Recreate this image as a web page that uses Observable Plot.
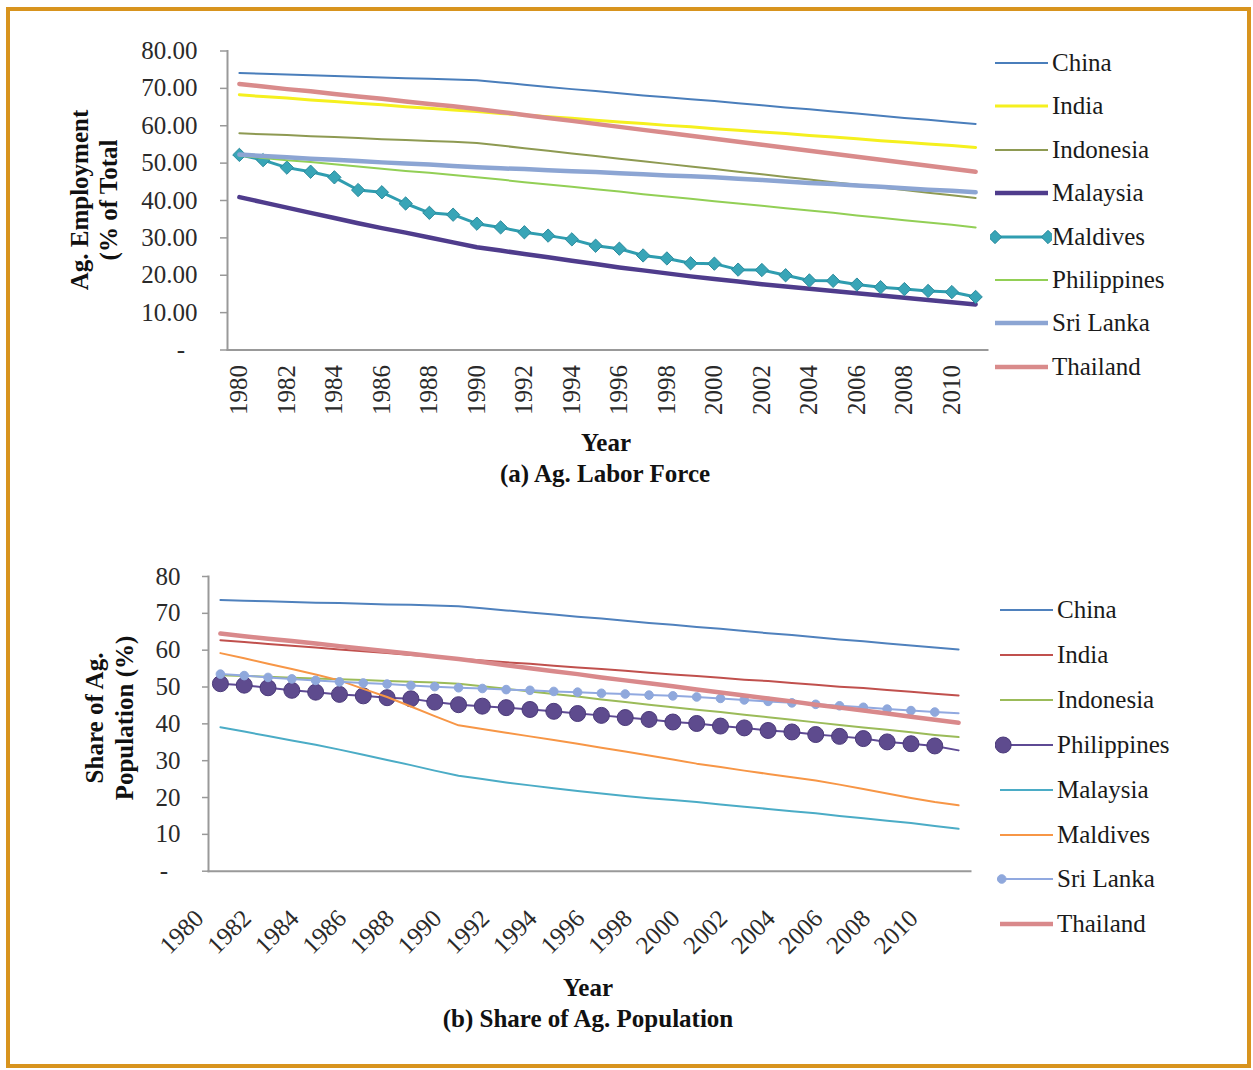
<!DOCTYPE html>
<html>
<head>
<meta charset="utf-8">
<script src="https://cdn.jsdelivr.net/npm/d3@7"></script>
<script src="https://cdn.jsdelivr.net/npm/@observablehq/plot@0.6"></script>
<style>
  html, body { margin: 0; padding: 0; background: #ffffff; }
  #page { position: relative; width: 1253px; height: 1070px; overflow: hidden;
          font-family: "Liberation Serif", "Times New Roman", serif; color: #111; }
  #border { position: absolute; left: 6px; top: 7px; width: 1245px; height: 1061px;
            border: 4px solid #D8941E; box-sizing: border-box; }
  .chart { position: absolute; left: 0; }
  .ytitle { position: absolute; font-weight: bold; font-size: 25px; text-align: center;
            transform: rotate(-90deg); transform-origin: center center; white-space: nowrap; }
  .cap { position: absolute; font-weight: bold; font-size: 25px; text-align: center; width: 600px; white-space: nowrap; }
  .legrow { position: absolute; height: 30px; display: flex; align-items: center; font-size: 25px; color: #1a1a1a; white-space: nowrap; }
  .legrow svg { display: block; }
</style>
</head>
<body>
<div id="page">
  <div id="border"></div>
  <div id="topChart" class="chart" style="top:0px"></div>
  <div id="botChart" class="chart" style="top:540px"></div>
</div>
<script>
// ---------------- DATA ----------------
const years = [1980,1981,1982,1983,1984,1985,1986,1987,1988,1989,1990,1991,1992,1993,1994,1995,
               1996,1997,1998,1999,2000,2001,2002,2003,2004,2005,2006,2007,2008,2009,2010,2011];
const yearTicks = [1980,1982,1984,1986,1988,1990,1992,1994,1996,1998,2000,2002,2004,2006,2008,2010];
const laborTicks = [0,10,20,30,40,50,60,70,80];
const popTicks = [0,10,20,30,40,50,60,70,80];

// (a) Ag. Labor Force — Ag. Employment (% of Total)
const laborChina = [74.1,73.9,73.7,73.5,73.3,73.1,72.9,72.7,72.6,72.4,72.2,71.6,71.0,70.4,69.8,69.3,
                    68.7,68.1,67.6,67.1,66.6,66.0,65.5,64.9,64.4,63.8,63.3,62.7,62.1,61.6,61.0,60.5];
const laborIndia = [68.3,67.8,67.4,66.9,66.5,66.0,65.6,65.1,64.7,64.2,63.8,63.3,62.9,62.4,62.0,61.5,
                    61.0,60.6,60.1,59.7,59.2,58.8,58.3,57.9,57.4,57.0,56.5,56.0,55.6,55.1,54.7,54.2];
const laborIndonesia = [58.0,57.7,57.5,57.2,57.0,56.7,56.4,56.2,55.9,55.7,55.4,54.7,54.0,53.3,52.6,51.9,
                        51.2,50.5,49.8,49.1,48.4,47.7,47.0,46.3,45.6,44.9,44.2,43.5,42.8,42.1,41.4,40.7];
const laborMalaysia = [40.9,39.5,38.1,36.7,35.3,33.9,32.6,31.4,30.1,28.8,27.5,26.6,25.7,24.8,23.9,23.0,
                       22.1,21.3,20.5,19.7,19.0,18.3,17.6,17.0,16.4,15.8,15.2,14.6,14.0,13.4,12.8,12.2];
const laborMaldives = [52.2,50.8,48.8,47.7,46.2,42.8,42.2,39.2,36.7,36.2,33.8,32.8,31.5,30.6,29.6,27.9,
                       27.1,25.3,24.5,23.2,23.1,21.5,21.4,20.0,18.6,18.5,17.5,16.8,16.3,15.8,15.5,14.2];
const laborPhilippines = [52.0,51.4,50.8,50.3,49.7,49.1,48.5,47.9,47.4,46.8,46.2,45.6,44.9,44.3,43.7,43.0,
                          42.4,41.7,41.1,40.5,39.8,39.2,38.6,37.9,37.3,36.7,36.0,35.4,34.7,34.1,33.5,32.8];
const laborSriLanka = [52.3,51.9,51.6,51.2,50.9,50.6,50.2,49.9,49.6,49.2,48.9,48.6,48.4,48.1,47.8,47.6,
                       47.3,47.0,46.7,46.5,46.2,45.8,45.5,45.1,44.7,44.4,44.0,43.7,43.3,42.9,42.6,42.2];
const laborThailand = [71.2,70.5,69.8,69.2,68.5,67.8,67.2,66.5,65.8,65.2,64.5,63.7,62.9,62.1,61.3,60.5,
                       59.7,58.9,58.1,57.3,56.5,55.7,54.9,54.1,53.3,52.5,51.7,50.9,50.1,49.3,48.5,47.7];

// (b) Share of Ag. Population (%)
const popChina = [73.6,73.4,73.3,73.1,72.9,72.8,72.6,72.4,72.3,72.1,71.9,71.4,70.8,70.2,69.7,69.1,
                  68.6,68.0,67.4,66.9,66.3,65.8,65.2,64.6,64.1,63.5,62.9,62.4,61.8,61.3,60.7,60.2];
const popIndia = [62.7,62.2,61.7,61.2,60.7,60.2,59.7,59.2,58.7,58.2,57.7,57.2,56.7,56.3,55.8,55.3,
                  54.9,54.4,53.9,53.4,53.0,52.5,52.0,51.6,51.1,50.6,50.1,49.7,49.2,48.7,48.2,47.7];
const popIndonesia = [53.2,53.0,52.8,52.5,52.3,52.1,51.9,51.6,51.4,51.2,50.9,50.2,49.5,48.8,48.1,47.4,
                      46.6,45.9,45.2,44.5,43.8,43.2,42.5,41.8,41.1,40.4,39.7,39.0,38.4,37.7,37.0,36.4];
const popPhilippines = [50.9,50.5,49.8,49.1,48.6,48.0,47.6,47.1,46.8,45.9,45.2,44.8,44.4,43.9,43.4,42.8,
                        42.3,41.7,41.2,40.5,40.1,39.4,38.9,38.2,37.8,37.1,36.6,36.0,35.1,34.6,34.0,32.8];
const popMalaysia = [39.1,37.9,36.7,35.5,34.3,33.0,31.6,30.2,28.8,27.3,25.9,25.0,24.1,23.3,22.5,21.8,
                     21.1,20.4,19.8,19.3,18.8,18.1,17.5,16.9,16.3,15.7,15.0,14.4,13.7,13.1,12.3,11.5];
const popMaldives = [59.2,57.8,56.3,54.9,53.4,51.8,49.5,47.3,44.7,42.1,39.6,38.6,37.6,36.6,35.6,34.6,
                     33.5,32.5,31.4,30.3,29.2,28.3,27.3,26.4,25.5,24.6,23.5,22.3,21.1,19.9,18.8,17.9];
const popSriLanka = [53.5,53.1,52.6,52.2,51.8,51.4,51.1,50.8,50.4,50.1,49.8,49.6,49.3,49.1,48.8,48.6,
                     48.3,48.1,47.8,47.6,47.3,46.9,46.5,46.1,45.7,45.3,44.9,44.5,44.0,43.6,43.2,42.9];
const popThailand = [64.5,63.8,63.1,62.5,61.8,61.1,60.4,59.7,59.0,58.3,57.6,56.8,55.9,55.1,54.3,53.5,
                     52.6,51.8,51.0,50.2,49.3,48.5,47.7,46.9,46.1,45.2,44.4,43.6,42.8,41.9,41.1,40.3];

// ---------------- STYLES ----------------
const laborSeries = [
  {name: "China",       values: laborChina,       color: "#4A7EBB", width: 2},
  {name: "India",       values: laborIndia,       color: "#F5F01E", width: 3},
  {name: "Indonesia",   values: laborIndonesia,   color: "#8E9A52", width: 2},
  {name: "Malaysia",    values: laborMalaysia,    color: "#4F3C8C", width: 4.5},
  {name: "Maldives",    values: laborMaldives,    color: "#2F9DB0", width: 3, marker: "diamond2", r: 6, mfill: "#38A5B7", mstroke: "#2A8A9C"},
  {name: "Philippines", values: laborPhilippines, color: "#92CF55", width: 2},
  {name: "Sri Lanka",   values: laborSriLanka,    color: "#8CA5D3", width: 4.5},
  {name: "Thailand",    values: laborThailand,    color: "#D98B8B", width: 4.5}
];
const popSeries = [
  {name: "China",       values: popChina,       color: "#4F81BD", width: 2},
  {name: "India",       values: popIndia,       color: "#C0504D", width: 2},
  {name: "Indonesia",   values: popIndonesia,   color: "#9BBB59", width: 2},
  {name: "Philippines", values: popPhilippines, color: "#5E4A94", width: 2, marker: "circle", r: 8, mfill: "#5E4B8E", mstroke: "#4B3A7A", markerLast: 2010, legendMarker: "left"},
  {name: "Malaysia",    values: popMalaysia,    color: "#4BACC6", width: 2},
  {name: "Maldives",    values: popMaldives,    color: "#F79646", width: 2},
  {name: "Sri Lanka",   values: popSriLanka,    color: "#91A9E0", width: 2, marker: "circle", r: 4.3, mfill: "#8FA8DC", mstroke: "#8FA8DC", markerLast: 2010, legendMarker: "left"},
  {name: "Thailand",    values: popThailand,    color: "#D9898B", width: 4.5}
];

function tidy(series) {
  const out = [];
  for (const s of series) s.values.forEach((v, i) => out.push({country: s.name, year: years[i], value: v}));
  return out;
}

function seriesMarks(series) {
  const data = tidy(series);
  const marks = [];
  for (const s of series) {
    const d = data.filter(o => o.country === s.name);
    marks.push(Plot.line(d, {x: "year", y: "value", stroke: s.color, strokeWidth: s.width, curve: "linear"}));
    if (s.marker) {
      const md = s.markerLast ? d.filter(o => o.year <= s.markerLast) : d;
      marks.push(Plot.dot(md, {x: "year", y: "value", symbol: s.marker, r: s.r, fill: s.mfill, stroke: s.mstroke, strokeWidth: 1}));
    }
  }
  return marks;
}

const FONT = '"Liberation Serif", "Times New Roman", serif';

// ---------------- TOP CHART ----------------
const topPlot = Plot.plot({
  width: 1000, height: 430,
  marginLeft: 227, marginRight: 13, marginTop: 50.5, marginBottom: 80.5,
  style: {fontFamily: FONT, fontSize: "25px", color: "#2a2a2a", background: "transparent", overflow: "visible"},
  x: {domain: [1979.5, 2011.5]},
  y: {domain: [0, 80]},
  marks: [
    Plot.axisY({ticks: laborTicks, tickFormat: d => d === 0 ? "-\u00a0\u00a0" : d.toFixed(2),
                tickSize: 7, tickPadding: 23, stroke: "#999", strokeWidth: 1.5, label: null}),
    Plot.axisX({ticks: yearTicks, tickFormat: d => String(d), tickRotate: -90, tickSize: 0, tickPadding: 15,
                textAnchor: "end", lineAnchor: "middle", label: null}),
    Plot.frame({anchor: "left", stroke: "#999", strokeWidth: 2}),
    Plot.frame({anchor: "bottom", stroke: "#999", strokeWidth: 2}),
    ...seriesMarks(laborSeries)
  ]
});
document.getElementById("topChart").appendChild(topPlot);

// ---------------- BOTTOM CHART ----------------
const botPlot = Plot.plot({
  width: 1000, height: 440,
  marginLeft: 208, marginRight: 30, marginTop: 36, marginBottom: 109.3,
  style: {fontFamily: FONT, fontSize: "25px", color: "#2a2a2a", background: "transparent", overflow: "visible"},
  x: {domain: [1979.5, 2011.5]},
  y: {domain: [0, 80]},
  marks: [
    Plot.axisY({ticks: popTicks, tickFormat: d => d === 0 ? "-\u00a0\u00a0" : String(d),
                tickSize: 6, tickPadding: 22, stroke: "#999", strokeWidth: 1.5, label: null}),
    Plot.axisX({ticks: yearTicks, tickFormat: d => String(d), tickRotate: -45, tickSize: 0, tickPadding: 43,
                dx: -21, textAnchor: "end", lineAnchor: "middle", label: null}),
    Plot.frame({anchor: "left", stroke: "#999", strokeWidth: 2}),
    Plot.frame({anchor: "bottom", stroke: "#999", strokeWidth: 2}),
    ...seriesMarks(popSeries)
  ]
});
document.getElementById("botChart").appendChild(botPlot);

// ---------------- TITLES / CAPTIONS ----------------
const page = document.getElementById("page");
function addDiv(cls, html, style) {
  const d = document.createElement("div");
  d.className = cls; d.innerHTML = html; Object.assign(d.style, style); page.appendChild(d); return d;
}
// y titles (rotated), centred on given points
addDiv("ytitle", "Ag. Employment<br>(% of Total", {left: (94 - 150) + "px", top: (200 - 29) + "px", width: "300px", lineHeight: "29px", height: "58px"});
addDiv("ytitle", "Share of Ag.<br>Population (%)", {left: (110 - 150) + "px", top: (718 - 30) + "px", width: "300px", lineHeight: "30px", height: "60px"});
// x titles and captions
addDiv("cap", "Year", {left: (606 - 300) + "px", top: (443 - 15) + "px", lineHeight: "30px"});
addDiv("cap", "(a) Ag. Labor Force", {left: (605 - 300) + "px", top: (474 - 15) + "px", lineHeight: "30px"});
addDiv("cap", "Year", {left: (588 - 300) + "px", top: (988 - 15) + "px", lineHeight: "30px"});
addDiv("cap", "(b) Share of Ag. Population", {left: (588 - 300) + "px", top: (1019 - 15) + "px", lineHeight: "30px"});

// ---------------- LEGENDS ----------------
function legend(series, left, firstY, step) {
  series.forEach((s, i) => {
    const row = document.createElement("div");
    row.className = "legrow";
    row.style.left = left + "px";
    row.style.top = (firstY + i * step - 15) + "px";
    const svg = d3.create("svg").attr("width", 62).attr("height", 30);
    svg.append("line").attr("x1", 5).attr("x2", 58).attr("y1", 15).attr("y2", 15)
      .attr("stroke", s.color).attr("stroke-width", s.width);
    if (s.marker) {
      const sym = s.marker === "diamond2" ? d3.symbolDiamond2 : d3.symbolCircle;
      const path = d3.symbol(sym, Math.PI * s.r * s.r)();
      const xs = s.legendMarker === "left" ? [5 + s.r * 0.4] : [5, 58];
      xs.forEach(x => svg.append("path").attr("d", path).attr("transform", `translate(${x},15)`)
        .attr("fill", s.mfill).attr("stroke", s.mstroke));
    }
    row.appendChild(svg.node());
    const t = document.createElement("span");
    t.textContent = s.name;
    row.appendChild(t);
    page.appendChild(row);
  });
}
legend(laborSeries, 990, 63, 43.4);
legend(popSeries, 995, 610, 44.9);
</script>
</body>
</html>
